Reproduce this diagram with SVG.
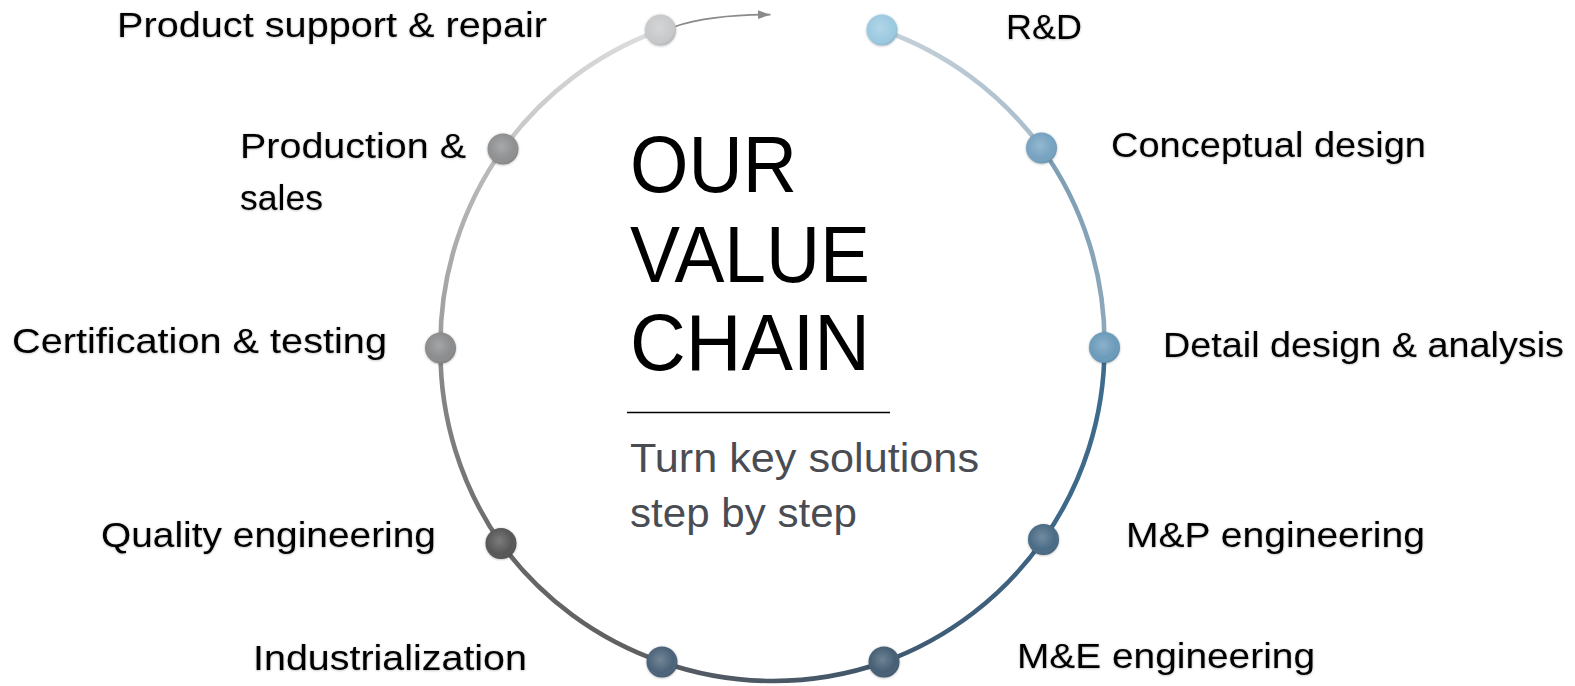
<svg xmlns="http://www.w3.org/2000/svg" width="1575" height="686" viewBox="0 0 1575 686">
<style>
.lbl{font-family:"Liberation Sans",Arial,sans-serif;font-size:35px;fill:#000}
.ttl{font-family:"Liberation Sans",Arial,sans-serif;font-size:79px;fill:#000}
.sub{font-family:"Liberation Sans",Arial,sans-serif;font-size:41px;fill:#4a4c53}
.ring{fill:none;stroke-width:4.6;stroke-linecap:butt}
.gloss{fill:url(#gloss)}
.node{filter:url(#sh)}
</style>
<defs>
<radialGradient id="gloss" cx="0.45" cy="0.42" r="0.6">
<stop offset="0" stop-color="#fff" stop-opacity="0.22"/>
<stop offset="0.7" stop-color="#fff" stop-opacity="0"/>
<stop offset="1" stop-color="#000" stop-opacity="0.12"/>
</radialGradient>
<filter id="sh" x="-40%" y="-40%" width="180%" height="180%">
<feDropShadow dx="0" dy="0.5" stdDeviation="1" flood-color="#000" flood-opacity="0.3"/>
</filter>
<marker id="ah" markerUnits="userSpaceOnUse" markerWidth="14" markerHeight="10" refX="12.5" refY="4.3" orient="auto">
<path d="M0,0 L12.5,4.3 L0,8.6 Z" fill="#8a8a8a"/>
</marker>
<linearGradient id="g1" gradientUnits="userSpaceOnUse" x1="882" y1="30" x2="1041.5" y2="148"><stop offset="0" stop-color="#c7d2da"/><stop offset="1" stop-color="#a7bccb"/></linearGradient>
<linearGradient id="g2" gradientUnits="userSpaceOnUse" x1="1041.5" y1="148" x2="1104.5" y2="347.5"><stop offset="0" stop-color="#7b9db5"/><stop offset="1" stop-color="#90a9bb"/></linearGradient>
<linearGradient id="g3" gradientUnits="userSpaceOnUse" x1="1104.5" y1="347.5" x2="1043.5" y2="539.5"><stop offset="0" stop-color="#3d6d8e"/><stop offset="1" stop-color="#3e6888"/></linearGradient>
<linearGradient id="g4" gradientUnits="userSpaceOnUse" x1="1043.5" y1="539.5" x2="884" y2="662"><stop offset="0" stop-color="#3e6484"/><stop offset="1" stop-color="#3f5a72"/></linearGradient>
<linearGradient id="g5" gradientUnits="userSpaceOnUse" x1="884" y1="662" x2="662" y2="662"><stop offset="0" stop-color="#40566b"/><stop offset="1" stop-color="#575b61"/></linearGradient>
<linearGradient id="g6" gradientUnits="userSpaceOnUse" x1="662" y1="662" x2="501" y2="543.5"><stop offset="0" stop-color="#5e5f61"/><stop offset="1" stop-color="#676767"/></linearGradient>
<linearGradient id="g7" gradientUnits="userSpaceOnUse" x1="501" y1="543.5" x2="440.5" y2="348"><stop offset="0" stop-color="#6b6b6b"/><stop offset="1" stop-color="#8c8c8c"/></linearGradient>
<linearGradient id="g8" gradientUnits="userSpaceOnUse" x1="440.5" y1="348" x2="503" y2="149"><stop offset="0" stop-color="#9c9c9c"/><stop offset="1" stop-color="#bdbdbd"/></linearGradient>
<linearGradient id="g9" gradientUnits="userSpaceOnUse" x1="503" y1="149" x2="660.5" y2="30"><stop offset="0" stop-color="#c6c6c6"/><stop offset="1" stop-color="#dedede"/></linearGradient>
</defs>
<rect width="1575" height="686" fill="#fff"/>
<g id="connectors">
<path class="ring" stroke="url(#g1)" d="M882,30 A334,334 0 0 1 1041.5,148"/>
<path class="ring" stroke="url(#g2)" d="M1041.5,148 A334,334 0 0 1 1104.5,347.5"/>
<path class="ring" stroke="url(#g3)" d="M1104.5,347.5 A334,334 0 0 1 1043.5,539.5"/>
<path class="ring" stroke="url(#g4)" d="M1043.5,539.5 A334,334 0 0 1 884,662"/>
<path class="ring" stroke="url(#g5)" d="M884,662 A334,334 0 0 1 662,662"/>
<path class="ring" stroke="url(#g6)" d="M662,662 A334,334 0 0 1 501,543.5"/>
<path class="ring" stroke="url(#g7)" d="M501,543.5 A334,334 0 0 1 440.5,348"/>
<path class="ring" stroke="url(#g8)" d="M440.5,348 A334,334 0 0 1 503,149"/>
<path class="ring" stroke="url(#g9)" d="M503,149 A334,334 0 0 1 660.5,30"/>
<path d="M675,26.5 Q712,14.5 770.5,14.7" fill="none" stroke="#8a8a8a" stroke-width="1.8" marker-end="url(#ah)"/>
</g>
<g id="node-rd" class="node"><circle cx="882" cy="30" r="15.5" fill="#9ccae1"/><circle cx="882" cy="30" r="15.5" class="gloss"/><text class="lbl" x="1006" y="39" textLength="76" lengthAdjust="spacingAndGlyphs">R&amp;D</text></g>
<g id="node-conceptual" class="node"><circle cx="1041.5" cy="148" r="15.5" fill="#76a3c1"/><circle cx="1041.5" cy="148" r="15.5" class="gloss"/><text class="lbl" x="1111" y="157" textLength="315" lengthAdjust="spacingAndGlyphs">Conceptual design</text></g>
<g id="node-detail" class="node"><circle cx="1104.5" cy="347.5" r="15.5" fill="#6b9bbb"/><circle cx="1104.5" cy="347.5" r="15.5" class="gloss"/><text class="lbl" x="1163" y="357" textLength="401" lengthAdjust="spacingAndGlyphs">Detail design &amp; analysis</text></g>
<g id="node-mp" class="node"><circle cx="1043.5" cy="539.5" r="15.5" fill="#4a6b86"/><circle cx="1043.5" cy="539.5" r="15.5" class="gloss"/><text class="lbl" x="1126" y="547" textLength="299" lengthAdjust="spacingAndGlyphs">M&amp;P engineering</text></g>
<g id="node-me" class="node"><circle cx="884" cy="662" r="15.5" fill="#465f75"/><circle cx="884" cy="662" r="15.5" class="gloss"/><text class="lbl" x="1017" y="668" textLength="298" lengthAdjust="spacingAndGlyphs">M&amp;E engineering</text></g>
<g id="node-industrialization" class="node"><circle cx="662" cy="662" r="15.5" fill="#4b6379"/><circle cx="662" cy="662" r="15.5" class="gloss"/><text class="lbl" x="253" y="670" textLength="274" lengthAdjust="spacingAndGlyphs">Industrialization</text></g>
<g id="node-quality" class="node"><circle cx="501" cy="543.5" r="15.5" fill="#575757"/><circle cx="501" cy="543.5" r="15.5" class="gloss"/><text class="lbl" x="101" y="547" textLength="335" lengthAdjust="spacingAndGlyphs">Quality engineering</text></g>
<g id="node-certification" class="node"><circle cx="440.5" cy="348" r="15.5" fill="#8a8c8e"/><circle cx="440.5" cy="348" r="15.5" class="gloss"/><text class="lbl" x="12" y="353" textLength="375" lengthAdjust="spacingAndGlyphs">Certification &amp; testing</text></g>
<g id="node-production" class="node"><circle cx="503" cy="149" r="15.5" fill="#8e9092"/><circle cx="503" cy="149" r="15.5" class="gloss"/><text class="lbl" x="240" y="158" textLength="226" lengthAdjust="spacingAndGlyphs">Production &amp;</text><text class="lbl" x="240" y="210" textLength="83" lengthAdjust="spacingAndGlyphs">sales</text></g>
<g id="node-support" class="node"><circle cx="660.5" cy="30" r="15.5" fill="#c8c9cb"/><circle cx="660.5" cy="30" r="15.5" class="gloss"/><text class="lbl" x="117" y="37" textLength="430" lengthAdjust="spacingAndGlyphs">Product support &amp; repair</text></g>
<g id="center-title">
<text class="ttl" x="630" y="192" textLength="167" lengthAdjust="spacingAndGlyphs">OUR</text>
<text class="ttl" x="630" y="282" textLength="240" lengthAdjust="spacingAndGlyphs">VALUE</text>
<text class="ttl" x="630" y="370" textLength="240" lengthAdjust="spacingAndGlyphs">CHAIN</text>
<line x1="627" y1="412.5" x2="890" y2="412.5" stroke="#000" stroke-width="1.6"/>
<text class="sub" x="630" y="472" textLength="349" lengthAdjust="spacingAndGlyphs">Turn key solutions</text>
<text class="sub" x="630" y="527" textLength="227" lengthAdjust="spacingAndGlyphs">step by step</text>
</g>
</svg>
